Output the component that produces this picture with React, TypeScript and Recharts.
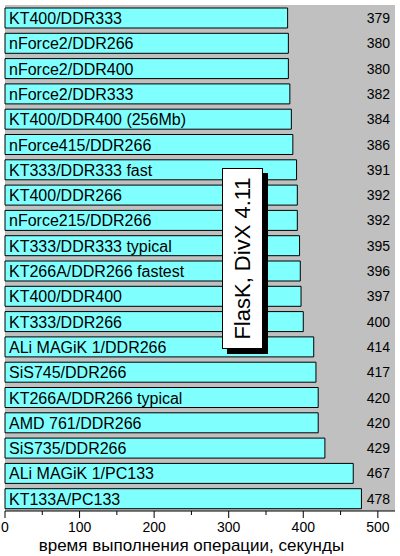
import { BarChart, Bar, XAxis, YAxis, CartesianGrid, LabelList } from "recharts";

const chipsets = [
  "KT400/DDR333",
  "nForce2/DDR266",
  "nForce2/DDR400",
  "nForce2/DDR333",
  "KT400/DDR400 (256Mb)",
  "nForce415/DDR266",
  "KT333/DDR333 fast",
  "KT400/DDR266",
  "nForce215/DDR266",
  "KT333/DDR333 typical",
  "KT266A/DDR266 fastest",
  "KT400/DDR400",
  "KT333/DDR266",
  "ALi MAGiK 1/DDR266",
  "SiS745/DDR266",
  "KT266A/DDR266 typical",
  "AMD 761/DDR266",
  "SiS735/DDR266",
  "ALi MAGiK 1/PC133",
  "KT133A/PC133",
];

const seconds = [379, 380, 380, 382, 384, 386, 391, 392, 392, 395, 396, 397, 400, 414, 417, 420, 420, 429, 467, 478];

const xTicks = [0, 50, 100, 150, 200, 250, 300, 350, 400, 450, 500];

const data = chipsets.map((name, i) => ({ name, value: seconds[i] }));

const FONT = "Liberation Sans";

// long marks on hundreds, short on fifties
const AxisTick = (props: any) => {
  const { x, y, payload } = props;
  const major = payload.value % 100 === 0;
  return (
    <g>
      <line x1={x} x2={x} y1={y} y2={y + (major ? 7 : 4)} stroke="#000" />
      {major && (
        <text x={x} y={y + 21} textAnchor="middle" fontSize={14} fontFamily={FONT} fill="#000">
          {payload.value}
        </text>
      )}
    </g>
  );
};

const NameLabel = (props: any) => {
  const { x, y, height, value } = props;
  return (
    <text x={x + 4} y={y + height / 2 + 6} fontSize={16} fontFamily={FONT} fill="#000">
      {value}
    </text>
  );
};

const ValueLabel = (props: any) => {
  const { y, height, value } = props;
  return (
    <text x={390} y={y + height / 2 + 5} textAnchor="end" fontSize={14} fontFamily={FONT} fill="#000">
      {value}
    </text>
  );
};

const App = () => {
  return (
    <div style={{ position: "absolute", left: 0, top: 0, width: 400, height: 556, background: "#fff" }}>
      <BarChart
        width={400}
        height={556}
        data={data}
        layout="vertical"
        margin={{ top: 5, right: 5, left: 5, bottom: 0 }}
        barSize={20}
      >
        <CartesianGrid horizontal={false} vertical={false} fill="#c0c0c0" />
        <XAxis
          type="number"
          domain={[0, 523]}
          ticks={xTicks}
          interval={0}
          height={45}
          axisLine={{ stroke: "#000" }}
          tickLine={false}
          tickSize={0}
          tickMargin={0}
          tick={<AxisTick />}
          label={{
            content: (p: any) => {
              const vb = p.viewBox;
              return (
                <text
                  x={vb.x + (vb.width * 250) / 523}
                  y={vb.y + 40}
                  textAnchor="middle"
                  fontSize={17}
                  fontFamily={FONT}
                  fill="#000"
                >
                  время выполнения операции, секунды
                </text>
              );
            },
          }}
        />
        <YAxis type="category" dataKey="name" width={0} tick={false} tickLine={false} axisLine={{ stroke: "#000" }} />
        <Bar dataKey="value" fill="#80ffff" stroke="#000" strokeWidth={1} isAnimationActive={false}>
          <LabelList dataKey="name" content={<NameLabel />} />
          <LabelList dataKey="value" content={<ValueLabel />} />
        </Bar>
      </BarChart>
      <svg width={400} height={556} style={{ position: "absolute", left: 0, top: 0, pointerEvents: "none" }}>
        <rect x={227} y={173} width={41} height={181} fill="#000" />
        <rect x={222.5} y={168.5} width={40} height={180} fill="#fff" stroke="#000" />
        <text
          transform="translate(250,258.5) rotate(-90)"
          textAnchor="middle"
          fontSize={22}
          fontFamily={FONT}
          fill="#000"
        >
          FlasK, DivX 4.11
        </text>
      </svg>
    </div>
  );
};

export default App;
